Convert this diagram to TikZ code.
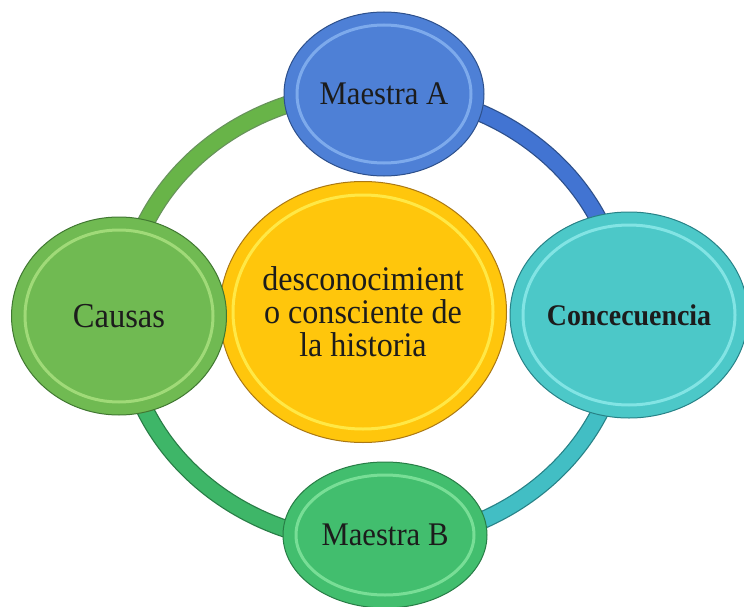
\documentclass[tikz,border=0pt]{standalone}
\usepackage{fontspec}
\setmainfont[FakeStretch=0.93]{Liberation Serif}
\usetikzlibrary{shapes.geometric}

\definecolor{blueF}{RGB}{78,128,214}
\definecolor{blueL}{RGB}{125,170,236}
\definecolor{blueD}{RGB}{45,80,140}
\definecolor{tealF}{RGB}{76,200,200}
\definecolor{tealL}{RGB}{130,228,228}
\definecolor{tealD}{RGB}{40,130,135}
\definecolor{grnF}{RGB}{112,186,82}
\definecolor{grnL}{RGB}{160,218,120}
\definecolor{grnD}{RGB}{65,120,50}
\definecolor{mgrF}{RGB}{66,190,110}
\definecolor{mgrL}{RGB}{120,222,150}
\definecolor{mgrD}{RGB}{40,125,70}
\definecolor{yelF}{RGB}{255,198,12}
\definecolor{yelL}{RGB}{255,232,70}
\definecolor{yelD}{RGB}{170,120,20}
\definecolor{txt}{RGB}{28,28,28}
\definecolor{ringG}{RGB}{104,180,72}
\definecolor{ringB}{RGB}{66,116,210}
\definecolor{ringT}{RGB}{66,190,196}
\definecolor{ringM}{RGB}{62,182,104}

\begin{document}
\begin{tikzpicture}[x=1pt,y=-1pt,
  bub/.style={ellipse, inner sep=0pt, line width=1pt, text=txt, align=center},
  bandout/.style={line width=18pt, line cap=butt},
  bandin/.style={line width=15.5pt, line cap=butt}]
\useasboundingbox (0,0) rectangle (744,607);
\coordinate (ring) at (373,317);

% ring arcs (radii in pt: angles measured on the page, y up)
% top-left: green (leaves Causas)
\draw[bandout, grnD!80] ([shift={(90:250pt and 226pt)}]ring) arc[start angle=90,end angle=180,x radius=250pt,y radius=226pt];
\draw[bandin, ringG] ([shift={(90:250pt and 226pt)}]ring) arc[start angle=90,end angle=180,x radius=250pt,y radius=226pt];
% top-right: blue (leaves Maestra A)
\draw[bandout, blueD] ([shift={(0:250pt and 226pt)}]ring) arc[start angle=0,end angle=90,x radius=250pt,y radius=226pt];
\draw[bandin, ringB] ([shift={(0:250pt and 226pt)}]ring) arc[start angle=0,end angle=90,x radius=250pt,y radius=226pt];
% bottom-right: teal (leaves Concecuencia)
\draw[bandout, tealD] ([shift={(270:250pt and 226pt)}]ring) arc[start angle=270,end angle=360,x radius=250pt,y radius=226pt];
\draw[bandin, ringT] ([shift={(270:250pt and 226pt)}]ring) arc[start angle=270,end angle=360,x radius=250pt,y radius=226pt];
% bottom-left: green (leaves Maestra B)
\draw[bandout, mgrD] ([shift={(180:250pt and 226pt)}]ring) arc[start angle=180,end angle=270,x radius=250pt,y radius=226pt];
\draw[bandin, ringM] ([shift={(180:250pt and 226pt)}]ring) arc[start angle=180,end angle=270,x radius=250pt,y radius=226pt];

% centre
\node[bub, fill=yelF, draw=yelD, minimum width=287pt, minimum height=261pt,
  path picture={\draw[yelL, line width=3pt] (path picture bounding box.center) ellipse [x radius=130pt, y radius=117pt];},
  font=\fontsize{34.5}{33}\selectfont] (core) at (363,312)
  {desconocimient\\o consciente de\\la historia};

% outer bubbles
\node[bub, fill=blueF, draw=blueD, minimum width=200pt, minimum height=164pt,
  path picture={\draw[blueL, line width=3pt] (path picture bounding box.center) ellipse [x radius=87pt, y radius=69pt];},
  font=\fontsize{33}{33}\selectfont] (ma) at (384,94) {Maestra A};
\node[bub, fill=grnF, draw=grnD, minimum width=215pt, minimum height=198pt,
  path picture={\draw[grnL, line width=3pt] (path picture bounding box.center) ellipse [x radius=94pt, y radius=86pt];},
  font=\fontsize{35}{33}\selectfont] (ca) at (119,316) {Causas};
\node[bub, fill=tealF, draw=tealD, minimum width=238pt, minimum height=206pt,
  path picture={\draw[tealL, line width=3pt] (path picture bounding box.center) ellipse [x radius=106pt, y radius=90pt];},
  font=\fontsize{30}{33}\selectfont\bfseries] (co) at (629,315) {Concecuencia};
\node[bub, fill=mgrF, draw=mgrD, minimum width=204pt, minimum height=146pt,
  path picture={\draw[mgrL, line width=3pt] (path picture bounding box.center) ellipse [x radius=89pt, y radius=60pt];},
  font=\fontsize{33}{33}\selectfont] (mb) at (385,535) {Maestra B};
\end{tikzpicture}
\end{document}
